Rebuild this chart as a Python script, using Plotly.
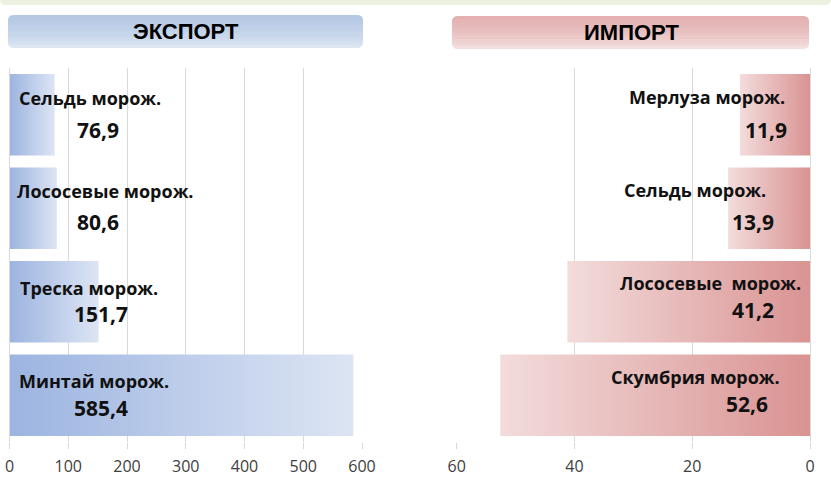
import plotly.graph_objects as go

# ---- data ----
export_categories = ["Сельдь морож.", "Лососевые морож.", "Треска морож.", "Минтай морож."]
export_values = [76.9, 80.6, 151.7, 585.4]
import_categories = ["Мерлуза морож.", "Сельдь морож.", "Лососевые\u00a0 морож.", "Скумбрия морож."]
import_values = [11.9, 13.9, 41.2, 52.6]
export_ticks = [0, 100, 200, 300, 400, 500, 600]
import_ticks = [0, 20, 40, 60]

# ---- label placement (styling) ----
exp_name_x = [12.8, 9.4, 14.5, 12.8]      # left edges
exp_val_x = [111, 111, 106, 106]           # left edges
exp_name_dy = [17, 17, 14, 14]
exp_val_dy = [-15, -14, -12, -13]
imp_name_x = [3.9, 7.1, 1.2, 4.75]         # right edges
imp_val_x = [3.6, 5.8, 5.8, 6.8]           # right edges
imp_name_dy = [18, 18, 19, 18]
imp_val_dy = [-15, -14, -8, -9]

W, H = 831, 480
BAR_HALF = 0.435

fig = go.Figure()

def px_x(p):
    return p / W

def px_y(p):
    return 1 - p / H

def bar_trace(value, idx, xa, ya, left_col, right_col):
    lo, hi = idx - BAR_HALF, idx + BAR_HALF
    return go.Scatter(
        x=[0, value, value, 0, 0], y=[lo, lo, hi, hi, lo],
        xaxis=xa, yaxis=ya, mode="lines", line=dict(width=0),
        fill="toself",
        fillgradient=dict(type="horizontal", colorscale=[[0, left_col], [1, right_col]]),
        hoverinfo="skip", showlegend=False,
    )

for i, v in enumerate(export_values):
    fig.add_trace(bar_trace(v, i, "x", "y", "#9cb4e0", "#dde5f4"))
for i, v in enumerate(import_values):
    fig.add_trace(bar_trace(v, i, "x2", "y2", "#f3dcdc", "#d99392"))

grid = "#d9d9d9"
tickfont = dict(family="Open Sans", size=16, color="#404040")

fig.update_layout(
    template="none",
    width=W, height=H,
    margin=dict(l=0, r=0, t=0, b=0, pad=0, autoexpand=False),
    paper_bgcolor="white", plot_bgcolor="white",
    xaxis=dict(domain=[px_x(9.5), px_x(362)], range=[0, 600], tickvals=export_ticks,
               showgrid=True, gridcolor=grid, gridwidth=1.3, zeroline=False,
               showline=False, ticks="outside", ticklen=6, tickcolor=grid, tickwidth=1.3,
               tickfont=tickfont, ticklabelstandoff=4, anchor="y", automargin=False),
    yaxis=dict(domain=[px_y(442), px_y(68)], range=[3.5, -0.5], showticklabels=False,
               showgrid=False, zeroline=False, showline=True, linecolor=grid,
               linewidth=1.3, anchor="x", automargin=False, ticks=""),
    xaxis2=dict(domain=[px_x(456.7), px_x(810)], range=[60, 0], tickvals=import_ticks,
                showgrid=True, gridcolor=grid, gridwidth=1.3, zeroline=False,
                showline=False, ticks="outside", ticklen=6, tickcolor=grid, tickwidth=1.3,
                tickfont=tickfont, ticklabelstandoff=4, anchor="y2", automargin=False),
    yaxis2=dict(domain=[px_y(442), px_y(68)], range=[3.5, -0.5], showticklabels=False,
                showgrid=False, zeroline=False, showline=True, linecolor=grid,
                linewidth=1.3, side="right", anchor="x2", automargin=False, ticks=""),
    showlegend=False,
)

def rounded_rect(x0, y0, x1, y1, r, bottom_round=True):
    X0, X1 = px_x(x0), px_x(x1)
    Y0, Y1 = px_y(y0), px_y(y1)
    rx, ry = r / W, r / H
    if bottom_round:
        bottom = (f"L{X1},{Y1+ry} Q{X1},{Y1} {X1-rx},{Y1} L{X0+rx},{Y1} "
                  f"Q{X0},{Y1} {X0},{Y1+ry} ")
    else:
        bottom = f"L{X1},{Y1} L{X0},{Y1} "
    return (f"M{X0+rx},{Y0} L{X1-rx},{Y0} Q{X1},{Y0} {X1},{Y0-ry} "
            + bottom + f"L{X0},{Y0-ry} Q{X0},{Y0} {X0+rx},{Y0} Z")

# top green strip
fig.add_shape(type="path", xref="paper", yref="paper", layer="below",
              path=rounded_rect(0, -10, 831, 5, 6), fillcolor="#ebf1de", line=dict(width=0))

# header boxes with a stepped vertical gradient
def header_box(x0, y0, x1, y1, bottom_col, top_col, steps=10):
    fig.add_shape(type="path", xref="paper", yref="paper",
                  path=rounded_rect(x0, y0, x1, y1, 6), fillcolor=bottom_col, line=dict(width=0))
    h = (y1 - y0)
    for k in range(1, steps):
        yk = y0 + h * (steps - k) / steps
        fig.add_shape(type="path", xref="paper", yref="paper",
                      path=rounded_rect(x0, y0, x1, yk, 6, bottom_round=False),
                      fillcolor=top_col, line=dict(width=0), opacity=0.13)

header_box(8, 15, 363, 48, "#dce6f3", "#a9c0df")
header_box(452, 16, 809, 49, "#f3dfde", "#dea6a5")

hdr_font = dict(family="Liberation Sans", size=22, color="#000000")
fig.add_annotation(text="<b>ЭКСПОРТ</b>", xref="paper", yref="paper", x=px_x(186), y=px_y(32),
                   showarrow=False, font=hdr_font, xanchor="center", yanchor="middle")
fig.add_annotation(text="<b>ИМПОРТ</b>", xref="paper", yref="paper", x=px_x(631), y=px_y(33),
                   showarrow=False, font=hdr_font, xanchor="center", yanchor="middle")

name_font = dict(family="Open Sans", size=18, color="#111111")
val_font = dict(family="Open Sans", size=21, color="#111111")

def fmt(v):
    return f"{v:.1f}".replace(".", ",")

for i, (c, v) in enumerate(zip(export_categories, export_values)):
    fig.add_annotation(text=f"<b>{c}</b>", x=exp_name_x[i], y=i, xref="x", yref="y",
                       xanchor="left", yshift=exp_name_dy[i], showarrow=False, font=name_font)
    fig.add_annotation(text=f"<b>{fmt(v)}</b>", x=exp_val_x[i], y=i, xref="x", yref="y",
                       xanchor="left", yshift=exp_val_dy[i], showarrow=False, font=val_font)

for i, (c, v) in enumerate(zip(import_categories, import_values)):
    fig.add_annotation(text=f"<b>{c}</b>", x=imp_name_x[i], y=i, xref="x2", yref="y2",
                       xanchor="right", yshift=imp_name_dy[i], showarrow=False, font=name_font)
    fig.add_annotation(text=f"<b>{fmt(v)}</b>", x=imp_val_x[i], y=i, xref="x2", yref="y2",
                       xanchor="right", yshift=imp_val_dy[i], showarrow=False, font=val_font)

fig.write_html("out.html", config={"displayModeBar": False},
               post_script="document.body.style.margin='0';document.body.style.overflow='hidden';")
